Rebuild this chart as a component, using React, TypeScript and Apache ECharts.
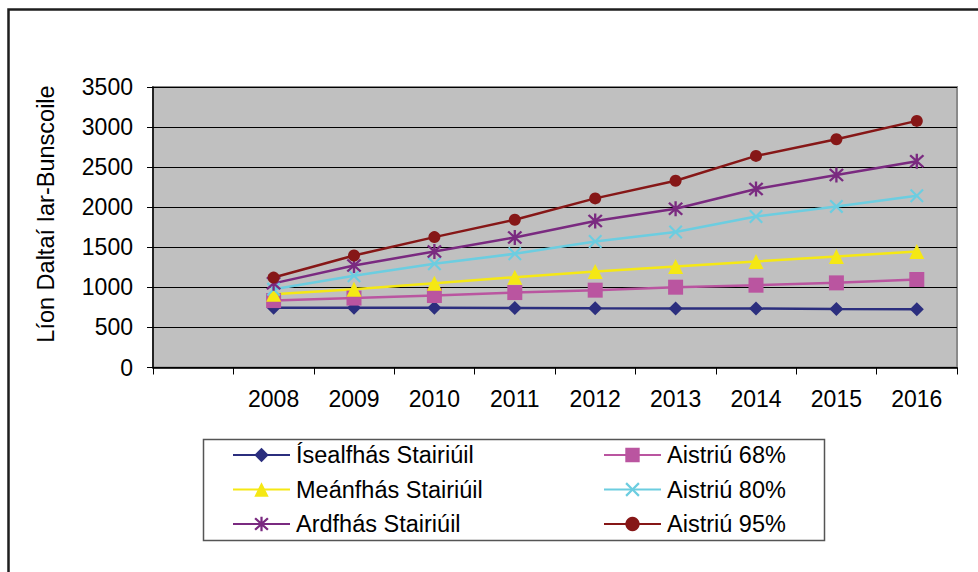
import React, { useEffect, useRef } from "react";
import * as echarts from "echarts";

const categories = ["", "2008", "2009", "2010", "2011", "2012", "2013", "2014", "2015", "2016"];
const yTicks = [0, 500, 1000, 1500, 2000, 2500, 3000, 3500];

const isealfhas = [745, 744, 744, 742, 738, 737, 735, 730, 728];
const aistriu68 = [835, 866, 898, 935, 965, 1002, 1027, 1056, 1098];
const meanfhas = [915, 977, 1050, 1127, 1198, 1260, 1323, 1385, 1448];
const aistriu80 = [977, 1144, 1294, 1419, 1573, 1690, 1885, 2010, 2144];
const ardfhas = [1050, 1273, 1448, 1623, 1827, 1981, 2227, 2402, 2573];
const aistriu95 = [1122, 1397, 1627, 1844, 2110, 2331, 2640, 2848, 3077];

const yTitle = "Líon Daltaí Iar-Bunscoile";
const FONT = "'Liberation Sans', Arial, sans-serif";

const X_PATH =
  "path://M0 11 L11 0 L50 39 L89 0 L100 11 L61 50 L100 89 L89 100 L50 61 L11 100 L0 89 L39 50 Z";
const STAR_PATH =
  "path://M43 0 L57 0 L57 100 L43 100 Z M5 15 L15 5 L50 40 L85 5 L95 15 L60 50 L95 85 L85 95 L50 60 L15 95 L5 85 L40 50 Z";

const seriesDefs = [
  { name: "Ísealfhás Stairiúil", data: isealfhas, color: "#2B2E7E", symbol: "diamond", size: 14 },
  { name: "Aistriú 68%", data: aistriu68, color: "#BA55A0", symbol: "rect", size: 15 },
  { name: "Meánfhás Stairiúil", data: meanfhas, color: "#F5E814", symbol: "triangle", size: 15 },
  { name: "Aistriú 80%", data: aistriu80, color: "#6CCDE0", symbol: X_PATH, size: 14 },
  { name: "Ardfhás Stairiúil", data: ardfhas, color: "#7A2A80", symbol: STAR_PATH, size: 15 },
  { name: "Aistriú 95%", data: aistriu95, color: "#861717", symbol: "circle", size: 12 },
];

export default function App() {
  const ref = useRef<HTMLDivElement>(null);
  useEffect(() => {
    if (!ref.current) return;
    const chart = echarts.init(ref.current, null, { renderer: "svg" });
    const legendCommon = {
      orient: "vertical",
      padding: 0,
      itemWidth: 57,
      itemHeight: 18,
      itemGap: 10.5,
      textStyle: { fontFamily: FONT, fontSize: 23.5, color: "#000", lineHeight: 23, padding: [0, 0, 0, 1] },
      selectedMode: false,
    };
    chart.setOption({
      animation: false,
      backgroundColor: "#fff",
      textStyle: { fontFamily: FONT },
      grid: {
        left: 153,
        top: 87,
        width: 804,
        height: 280.5,
        show: true,
        backgroundColor: "#C0C0C0",
        borderColor: "#8A8A8A",
        borderWidth: 2,
      },
      xAxis: {
        type: "category",
        data: categories,
        boundaryGap: true,
        axisLine: { lineStyle: { color: "#000", width: 1.5 } },
        axisTick: { show: true, length: 7, lineStyle: { color: "#000" } },
        axisLabel: { fontSize: 23, color: "#000", margin: 20, fontFamily: FONT },
        splitLine: { show: false },
      },
      yAxis: {
        type: "value",
        min: yTicks[0],
        max: yTicks[yTicks.length - 1],
        interval: 500,
        axisLine: { show: true, lineStyle: { color: "#000", width: 1.5 } },
        axisTick: { show: true, length: 6, lineStyle: { color: "#000" } },
        axisLabel: {
          fontSize: 23,
          color: "#000",
          margin: 20,
          fontFamily: FONT,
          formatter: (v: number) => String(v),
        },
        splitLine: { show: true, lineStyle: { color: "#000", width: 1 } },
      },
      legend: [
        {
          ...legendCommon,
          left: 232,
          top: 443,
          data: [seriesDefs[0].name, seriesDefs[2].name, seriesDefs[4].name],
        },
        {
          ...legendCommon,
          left: 603,
          top: 443,
          data: [seriesDefs[1].name, seriesDefs[3].name, seriesDefs[5].name],
        },
      ],
      graphic: [
        {
          type: "rect",
          z: -10,
          shape: { x: 8.5, y: 9.5, width: 1200, height: 800 },
          style: { fill: "none", stroke: "#1E1E1E", lineWidth: 2.5 },
          silent: true,
        },
        {
          type: "rect",
          z: -5,
          shape: { x: 203.5, y: 439.5, width: 621, height: 101 },
          style: { fill: "#fff", stroke: "#555", lineWidth: 1.5 },
          silent: true,
        },
        {
          type: "text",
          x: 46,
          y: 214,
          rotation: Math.PI / 2,
          style: {
            text: yTitle,
            fontSize: 23.5,
            fontFamily: FONT,
            fill: "#000",
            textAlign: "center",
            textVerticalAlign: "middle",
          },
        },
      ],
      series: seriesDefs.map((s) => ({
        type: "line",
        name: s.name,
        data: [null, ...s.data],
        symbol: s.symbol,
        symbolSize: s.size,
        showAllSymbol: true,
        lineStyle: { color: s.color, width: 2.5 },
        itemStyle: { color: s.color },
        emphasis: { disabled: true },
      })),
    });
    return () => chart.dispose();
  }, []);
  return <div ref={ref} style={{ position: "fixed", left: 0, top: 0, width: 978, height: 572 }} />;
}
